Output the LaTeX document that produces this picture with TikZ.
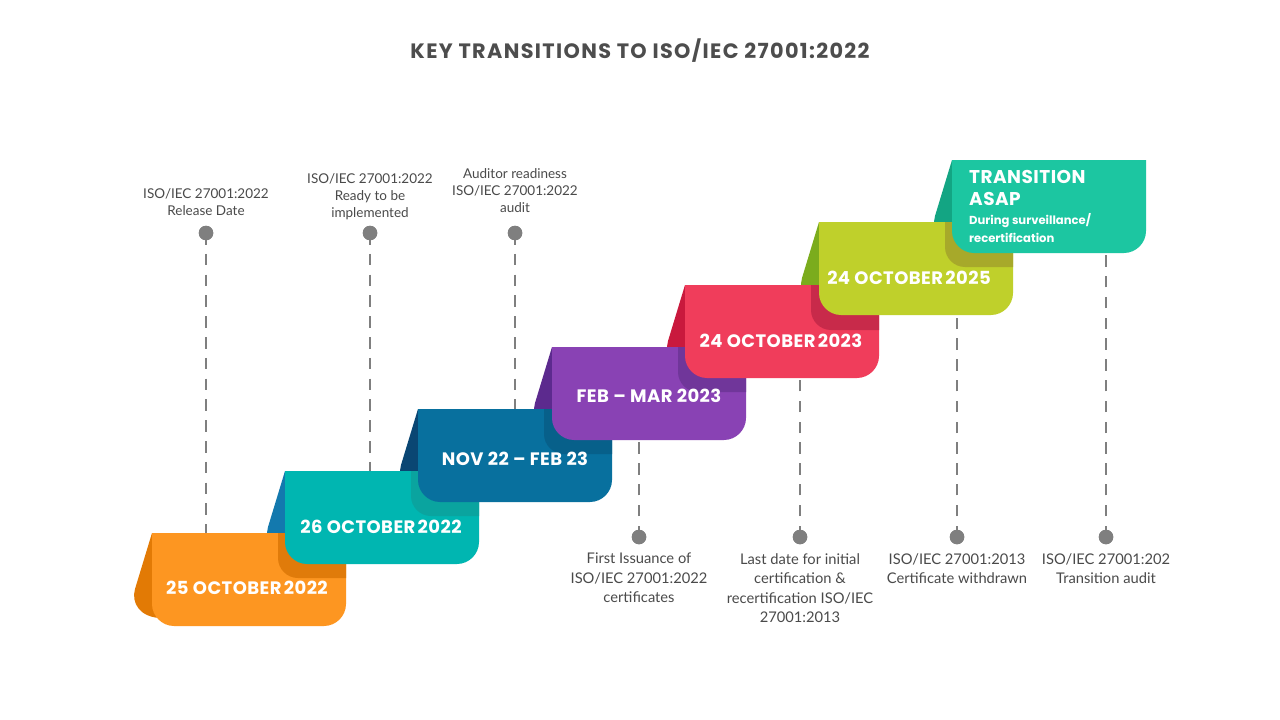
\documentclass[tikz,border=0pt]{standalone}
\usepackage{fontspec}
\setmainfont{Lato}
\newfontfamily\popfont[LetterSpace=2.5]{Poppins}
\newfontfamily\popplain{Poppins}
\newfontfamily\titlefont[LetterSpace=6.5]{Poppins}
\definecolor{dgray}{HTML}{7F7F7F}
\definecolor{lgray}{HTML}{4A4A4A}
\definecolor{ttl}{HTML}{4D4D4D}
\definecolor{cOr}{HTML}{FD9621}\definecolor{fOr}{HTML}{E27A05}\definecolor{sOr}{HTML}{E07B0A}
\definecolor{cTe}{HTML}{00B6B1}\definecolor{fTe}{HTML}{1379AE}\definecolor{sTe}{HTML}{0AA49F}
\definecolor{cBl}{HTML}{08709E}\definecolor{fBl}{HTML}{0A4673}\definecolor{sBl}{HTML}{07608A}
\definecolor{cPu}{HTML}{8942B4}\definecolor{fPu}{HTML}{5C2A8E}\definecolor{sPu}{HTML}{70369A}
\definecolor{cRe}{HTML}{F03D5B}\definecolor{fRe}{HTML}{C9193D}\definecolor{sRe}{HTML}{C82A4A}
\definecolor{cLi}{HTML}{BFD02B}\definecolor{fLi}{HTML}{7BAC1D}\definecolor{sLi}{HTML}{A7A92A}
\definecolor{cGr}{HTML}{1CC6A1}\definecolor{fGr}{HTML}{13A583}
\newcommand\foldat[3]{\begin{scope}[shift={(#1,#2)}]\fill[#3] (0,0) -- (-17,56) .. controls (-21,70) and (-12,84) .. (8,85) -- (20,85) -- (20,0) -- cycle;\end{scope}}
\newcommand\mainat[3]{\begin{scope}[shift={(#1,#2)}]\fill[#3] (0,0) -- (194,0) -- (194,71) .. controls (194,83) and (184,93) .. (172,93) -- (22,93) .. controls (10,93) and (0,83) .. (0,71) -- cycle;\end{scope}}
\newcommand\shadowat[3]{\begin{scope}[shift={(#1,#2)}]\fill[#3] (126,0) -- (194,0) -- (194,45) -- (146,45) .. controls (135,45) and (126,36) .. (126,25) -- cycle;\end{scope}}
\tikzset{
  dashln/.style={draw=dgray, line width=2.8pt, dash pattern=on 11.5pt off 9.3pt},
  dotc/.style={circle, fill=dgray, inner sep=0pt, minimum size=14.5pt},
  toplbl/.style={font=\fontsize{13.5}{17}\selectfont, text=lgray, align=center, inner sep=0pt, anchor=north},
  botlbl/.style={font=\fontsize{14.7}{19.5}\selectfont, text=lgray, align=center, inner sep=0pt, anchor=north},
  boxtxt/.style={font=\popfont\bfseries\fontsize{18}{20}\selectfont, text=white, inner sep=0pt, anchor=base},
  trtxt/.style={font=\popfont\bfseries\fontsize{18.5}{22}\selectfont, text=white, inner sep=0pt, anchor=base west},
  trsub/.style={font=\popplain\bfseries\fontsize{11.6}{18}\selectfont, text=white, inner sep=0pt, anchor=base west},
}
\begin{document}
\begin{tikzpicture}[x=1pt,y=-1pt]
\useasboundingbox[fill=white] (0,0) rectangle (1280,720);
% title
\node[font=\titlefont\bfseries\fontsize{20.8}{24}\selectfont, text=ttl, anchor=base, inner sep=0pt] (title) at (640,58) {KEY TRANSITIONS TO ISO/IEC 27001:2022};
% dots
\node[dotc] (d1) at (206,233) {};
\node[dotc] (d2) at (370,233) {};
\node[dotc] (d3) at (515,233) {};
\node[dotc] (d4) at (639,537) {};
\node[dotc] (d5) at (800,537) {};
\node[dotc] (d6) at (957,537) {};
\node[dotc] (d7) at (1106,537) {};
% box edge coordinates
\coordinate (b1) at (206,533);
\coordinate (b2) at (370,471);
\coordinate (b3) at (515,409);
\coordinate (b4) at (639,439);
\coordinate (b5) at (800,377);
\coordinate (b6) at (957,314);
\coordinate (b7) at (1106,252);
% dashed connectors
\draw[dashln] (d1.center) -- (b1);
\draw[dashln] (d2.center) -- (b2);
\draw[dashln] (d3.center) -- (b3);
\draw[dashln] (d4.center) -- (b4);
\draw[dashln] (d5.center) -- (b5);
\draw[dashln] (d6.center) -- (b6);
\draw[dashln] (d7.center) -- (b7);
% redraw dots on top
\fill[dgray] (d1) circle (7.25); \fill[dgray] (d2) circle (7.25); \fill[dgray] (d3) circle (7.25);
\fill[dgray] (d4) circle (7.25); \fill[dgray] (d5) circle (7.25); \fill[dgray] (d6) circle (7.25); \fill[dgray] (d7) circle (7.25);
% folds
\foldat{152}{533}{fOr}
\foldat{285}{471}{fTe}
\foldat{418}{409}{fBl}
\foldat{552}{347}{fPu}
\foldat{685}{285}{fRe}
\foldat{819}{222}{fLi}
\foldat{952}{160}{fGr}
% main boxes with shadows
\mainat{152}{533}{cOr}\shadowat{152}{533}{sOr}
\mainat{285}{471}{cTe}\shadowat{285}{471}{sTe}
\mainat{418}{409}{cBl}\shadowat{418}{409}{sBl}
\mainat{552}{347}{cPu}\shadowat{552}{347}{sPu}
\mainat{685}{285}{cRe}\shadowat{685}{285}{sRe}
\mainat{819}{222}{cLi}\shadowat{819}{222}{sLi}
\mainat{952}{160}{cGr}
% box texts
\node[boxtxt] (t1) at (247,594) {25 OCTOBER\hspace{-2pt} 2022};
\node[boxtxt] (t2) at (381,533) {26 OCTOBER\hspace{-2pt} 2022};
\node[boxtxt] (t3) at (515,465) {NOV 22 – FEB 23};
\node[boxtxt] (t4) at (649,402) {FEB – MAR 2023};
\node[boxtxt] (t5) at (781,347) {24 OCTOBER\hspace{-2pt} 2023};
\node[boxtxt] (t6) at (909,284) {24 OCTOBER\hspace{-2pt} 2025};
\node[trtxt] (t7a) at (969,183) {TRANSITION};
\node[trtxt] (t7b) at (969,205) {ASAP};
\node[trsub] (t7c) at (969,224) {During surveillance/};
\node[trsub] (t7d) at (969,242.5) {recertification};
% labels
\node[toplbl] (l1) at (206,188.5) {ISO/IEC 27001:2022\\Release Date};
\node[toplbl] (l2) at (370,173.5) {ISO/IEC 27001:2022\\Ready to be\\implemented};
\node[toplbl] (l3) at (515,168.5) {Auditor readiness\\ISO/IEC 27001:2022\\audit};
\node[botlbl] (l4) at (639,553) {First Issuance of\\ISO/IEC 27001:2022\\certificates};
\node[botlbl] (l5) at (800,553) {Last date for initial\\certification \&\\recertification ISO/IEC\\27001:2013};
\node[botlbl] (l6) at (957,553) {ISO/IEC 27001:2013\\Certificate withdrawn};
\node[botlbl] (l7) at (1106,553) {ISO/IEC 27001:202\\Transition audit};
\end{tikzpicture}
\end{document}
